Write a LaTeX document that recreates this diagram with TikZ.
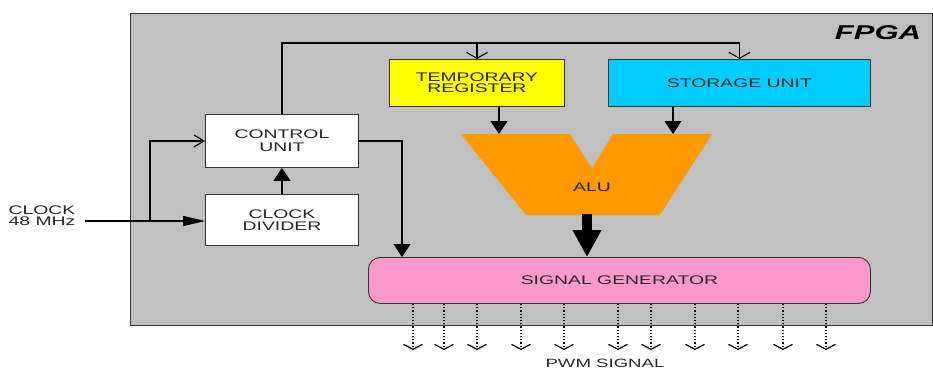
\documentclass[tikz,border=0pt]{standalone}
\usepackage{fontspec}
\newfontfamily\lab[FakeStretch=1.55]{Liberation Sans}
\usetikzlibrary{arrows.meta}
\definecolor{fpgagray}{RGB}{192,192,192}
\definecolor{regyellow}{RGB}{255,255,0}
\definecolor{storcyan}{RGB}{0,204,255}
\definecolor{aluorange}{RGB}{255,153,0}
\definecolor{sigpink}{RGB}{255,153,204}
\begin{document}
\begin{tikzpicture}[x=1pt,y=-1pt,
  txt/.style={font=\lab\fontsize{12.5}{12}\selectfont, align=center, text=black!85},
  blk/.style={txt, draw=black!80, line width=0.9pt, inner sep=0pt, anchor=north west},
  conn/.style={line width=1.1pt, draw=black},
  fv/.style={conn, -{Triangle[length=13pt,width=17pt]}},
  fh/.style={conn, -{Triangle[length=22pt,width=10pt]}},
  ov/.style={conn, -{Straight Barb[length=6pt,width=21pt]}},
  oh/.style={conn, -{Straight Barb[length=10pt,width=12pt]}},
  pwm/.style={line width=1.2pt, dotted, -{Straight Barb[length=5pt,width=19pt]}}]
\useasboundingbox (0,0) rectangle (933,368);
\fill[white] (0,0) rectangle (933,368);
% FPGA frame
\node[draw=black!80, line width=1pt, fill=fpgagray, anchor=north west,
  minimum width=802pt, minimum height=312pt, inner sep=0pt] (fpga) at (130,13) {};
\node[font=\lab\fontsize{20}{20}\selectfont\bfseries\itshape] (fpgalabel) at (878,33) {FPGA};
% blocks
\node[blk, fill=white, minimum width=153pt, minimum height=53pt] (cu) at (205,114) {CONTROL\\[1pt]UNIT};
\node[blk, fill=white, minimum width=153pt, minimum height=51pt] (div) at (205,194) {CLOCK\\DIVIDER};
\node[blk, fill=regyellow, minimum width=175pt, minimum height=47pt, font=\lab\fontsize{12.5}{11}\selectfont] (tr) at (389,59) {TEMPORARY\\REGISTER};
\node[blk, fill=storcyan, minimum width=262pt, minimum height=47pt] (su) at (608,59) {STORAGE UNIT};
\node[blk, fill=sigpink, rounded corners=12pt, minimum width=502pt, minimum height=46pt] (sg) at (368,257) {SIGNAL GENERATOR};
% ALU
\fill[aluorange] (461,134) -- (570,134) -- (592,168) -- (613,134) -- (712,134) -- (660,215) -- (526,215) -- cycle;
\node[txt] (alu) at (592,187) {ALU};
\coordinate (alua) at (499,134);
\coordinate (alub) at (673,134);
\coordinate (alubot) at (587,214);
% clock input
\node[txt, font=\lab\fontsize{12.5}{11}\selectfont] (clk) at (42,216) {CLOCK\\48 MHz};
\coordinate (clkin) at (85,221);
\coordinate (br) at (150,221);
\coordinate (bus) at (283,43);
\coordinate (sgin) at (402,257);
\draw[fh] (clkin) -- (clkin -| div.west);
\draw[oh] (br) |- (cu.west);
\draw[fv] (div.north) -- (cu.south);
% bus from control unit
\draw[ov] (cu.north) |- (su.north |- bus) -- (su.north);
\draw[ov] (tr.north |- bus) -- (tr.north);
% to ALU
\draw[fv] (tr.south -| alua) -- (alua);
\draw[fv] (su.south -| alub) -- (alub);
% control unit to signal generator
\draw[fv] (cu.east) -| (sgin);
% ALU to signal generator
\draw[line width=10pt, -{Triangle[length=27pt,width=27pt]}] (alubot) -- (sg.north -| alubot);
% PWM outputs
\foreach \px in {413,444,477,521,564,618,651,695,738,783,826}{
  \coordinate (p\px) at (\px,350);
  \draw[pwm] (sg.south -| p\px) -- (p\px);
}
\node[txt, font=\lab\fontsize{12}{12}\selectfont] (pwmlabel) at (605,363) {PWM SIGNAL};
\end{tikzpicture}
\end{document}
